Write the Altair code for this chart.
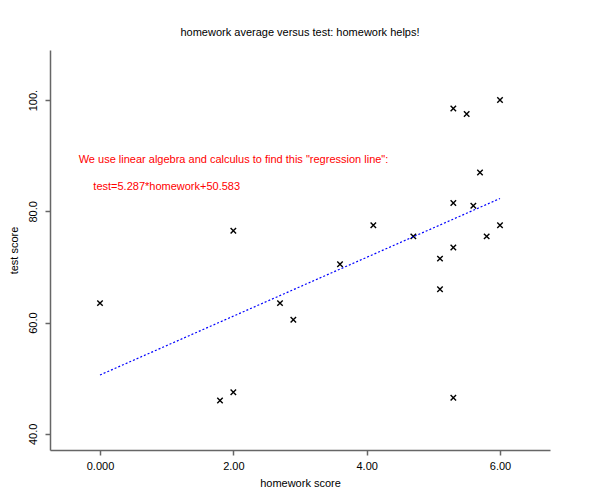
import altair as alt
import pandas as pd

# data
homework = [0.0, 2.0, 2.0, 1.8, 2.7, 2.9, 3.6, 4.1, 4.7, 5.1, 5.1, 5.3, 5.5, 6.0, 5.7, 5.3, 5.6, 5.3, 5.8, 6.0, 5.3]
test = [63.5, 76.5, 47.5, 46.0, 63.5, 60.5, 70.5, 77.5, 75.5, 71.5, 66.0, 98.5, 97.5, 100.0, 87.0, 81.5, 81.0, 73.5, 75.5, 77.5, 46.5]

slope = 5.287
intercept = 50.583
line_x = [0.0, 6.0]
line_y = [intercept + slope * v for v in line_x]

notes = ['We use linear algebra and calculus to find this "regression line":',
         "test=5.287*homework+50.583"]
note_x = [-0.32, -0.1]
note_y = [89.2, 84.3]

x_ticks = [0, 2, 4, 6]
y_ticks = [40, 60, 80, 100]

pts = pd.DataFrame({"homework": homework, "test": test})
reg = pd.DataFrame({"homework": line_x, "test": line_y})
ann = pd.DataFrame({"homework": note_x, "test": note_y, "label": notes})

FONT = "Liberation Sans"

xscale = alt.Scale(domain=[-0.75, 6.75], nice=False, zero=False)
yscale = alt.Scale(domain=[37.1, 109.0], nice=False, zero=False)

xaxis = alt.Axis(
    title="homework score", values=x_ticks, grid=False,
    labelExpr="datum.value == 0 ? '0.000' : format(datum.value, '.2f')",
    domainColor="#666666", domainWidth=1.5, tickColor="#666666", tickWidth=1.5, tickSize=5,
    labelFont=FONT, labelFontSize=11, labelColor="black", labelPadding=5,
    titleFont=FONT, titleFontSize=11, titleFontWeight="normal", titleColor="black", titlePadding=6,
)
yaxis = alt.Axis(
    title="test score", values=y_ticks, grid=False,
    labelExpr="datum.value == 100 ? '100.' : format(datum.value, '.1f')",
    labelAngle=-90, labelAlign="center", labelBaseline="bottom",
    domainColor="#666666", domainWidth=1.5, tickColor="#666666", tickWidth=1.5, tickSize=5,
    labelFont=FONT, labelFontSize=11, labelColor="black", labelPadding=7,
    titleFont=FONT, titleFontSize=11, titleFontWeight="normal", titleColor="black", titlePadding=8,
)

base_x = alt.X("homework:Q", scale=xscale, axis=xaxis)
base_y = alt.Y("test:Q", scale=yscale, axis=yaxis)

points = alt.Chart(pts).mark_point(
    shape="M-1,-1L1,1M-1,1L1,-1", size=30, filled=False, color="black", strokeWidth=1.4, opacity=1
).encode(x=base_x, y=base_y)

line = alt.Chart(reg).mark_line(color="#0000ff", strokeDash=[2, 2], strokeWidth=1.2).encode(
    x="homework:Q", y="test:Q"
)

text = alt.Chart(ann).mark_text(
    align="left", baseline="middle", color="#ff0000", font=FONT, fontSize=11
).encode(x="homework:Q", y="test:Q", text="label:N")

chart = alt.layer(points, line, text).properties(
    width=500, height=400,
    title=alt.TitleParams("homework average versus test: homework helps!", font=FONT, fontSize=11,
                          fontWeight="normal", color="black", offset=12),
    autosize=alt.AutoSizeParams(type="none"),
    padding={"left": 42, "top": 42, "right": 42, "bottom": 42},
).configure_view(stroke=None)

chart.save("out.html", embed_options={"renderer": "svg", "actions": False})
